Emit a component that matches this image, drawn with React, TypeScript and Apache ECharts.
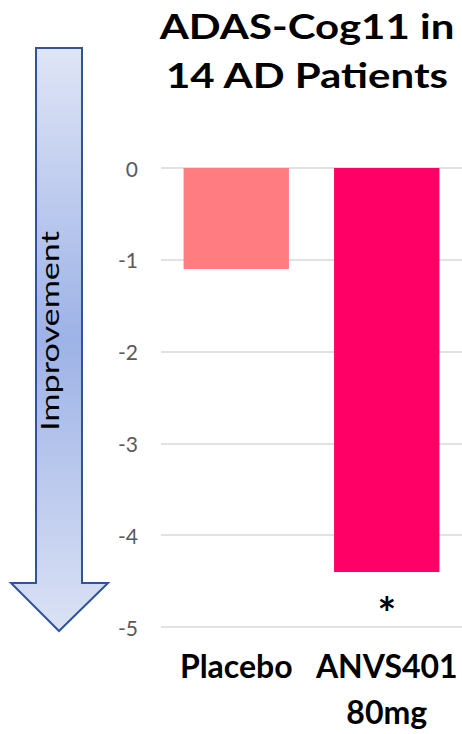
import React, { useEffect, useRef } from "react";
import * as echarts from "echarts";

const categories = ["Placebo", "ANVS401\n80mg"];
const values = [-1.1, -4.4];
const barColors = ["#FF7C80", "#FF0066"];
const significance = ["", "*"];
const titleText = "ADAS-Cog11 in\n14 AD Patients";
const arrowText = "Improvement";

export default function App() {
  const ref = useRef<HTMLDivElement>(null);
  useEffect(() => {
    document.body.style.margin = "0";
    const chart = echarts.init(ref.current!, undefined, { renderer: "svg" });
    const font = "Lato, 'Open Sans', sans-serif";
    chart.setOption({
      animation: false,
      backgroundColor: "#ffffff",
      grid: { left: 161, right: 0, top: 168, bottom: 99, containLabel: false },
      xAxis: {
        type: "category",
        data: categories,
        position: "bottom",
        axisLine: { show: false, onZero: false },
        axisTick: { show: false },
        axisLabel: {
          fontFamily: font,
          fontWeight: "bold",
          fontSize: 32,
          lineHeight: 46,
          color: "#000000",
          margin: 15,
          interval: 0,
          verticalAlign: "top",
        },
      },
      yAxis: {
        type: "value",
        min: -5,
        max: 0,
        interval: 1,
        axisLine: { show: false },
        axisTick: { show: false },
        splitLine: { lineStyle: { color: "#d9d9d9", width: 1.5 } },
        axisLabel: {
          fontFamily: font,
          fontSize: 21,
          color: "#595959",
          margin: 23,
        },
      },
      series: [
        {
          type: "bar",
          barWidth: "70%",
          data: values.map((v, i) => ({
            value: v,
            itemStyle: { color: barColors[i] },
            label: {
              show: significance[i] !== "",
              position: "bottom",
              distance: 18,
              formatter: () => significance[i],
              fontFamily: font,
              fontWeight: "bold",
              fontSize: 44,
              color: "#000000",
            },
          })),
        },
      ],
      graphic: [
        {
          type: "text",
          x: 307,
          y: 1,
          scaleX: 1.235,
          style: {
            text: titleText,
            fontFamily: font,
            fontWeight: "bold",
            fontSize: 34,
            lineHeight: 49,
            fill: "#000000",
            align: "center",
            verticalAlign: "top",
          },
        },
        {
          type: "polygon",
          shape: {
            points: [
              [36, 48],
              [82, 48],
              [82, 583],
              [108, 583],
              [59, 631],
              [11, 583],
              [36, 583],
            ],
          },
          style: {
            fill: new echarts.graphic.LinearGradient(0, 0, 0, 1, [
              { offset: 0, color: "#dfe5f6" },
              { offset: 0.5, color: "#9db2e6" },
              { offset: 1, color: "#dbe2f5" },
            ]),
            stroke: "#2F5597",
            lineWidth: 2,
          },
        },
        {
          type: "text",
          x: 49,
          y: 331,
          rotation: Math.PI / 2,
          scaleX: 1.37,
          style: {
            text: arrowText,
            fontFamily: font,
            fontSize: 25,
            fill: "#000000",
            align: "center",
            verticalAlign: "middle",
          },
        },
      ],
    });
    return () => chart.dispose();
  }, []);
  return <div ref={ref} style={{ width: 462, height: 734 }} />;
}
